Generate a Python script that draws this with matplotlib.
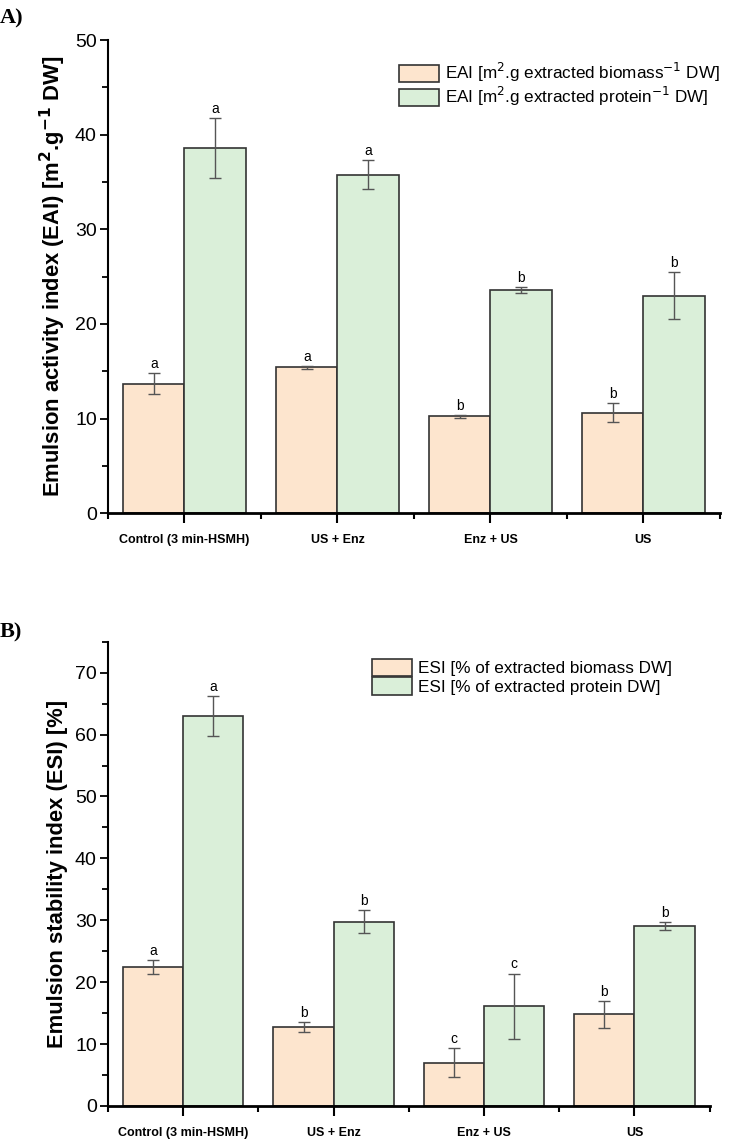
import matplotlib.pyplot as plt
import numpy as np
from matplotlib.ticker import MultipleLocator

# data
groups = ['Control (3 min-HSMH)', 'US + Enz', 'Enz + US', 'US']

eai_biomass = [13.7, 15.4, 10.25, 10.6]
eai_biomass_err = [1.1, 0.15, 0.15, 1.0]
eai_protein = [38.6, 35.8, 23.6, 23.0]
eai_protein_err = [3.2, 1.5, 0.3, 2.5]
eai_biomass_letters = ['a', 'a', 'b', 'b']
eai_protein_letters = ['a', 'a', 'b', 'b']

esi_biomass = [22.5, 12.8, 7.0, 14.8]
esi_biomass_err = [1.1, 0.8, 2.35, 2.2]
esi_protein = [63.0, 29.8, 16.1, 29.1]
esi_protein_err = [3.3, 1.85, 5.3, 0.6]
esi_biomass_letters = ['a', 'b', 'c', 'b']
esi_protein_letters = ['a', 'b', 'c', 'b']

orange = '#FDE5CE'
green = '#DAEFD9'
edge = '#333333'
errc = '#555555'

plt.rcParams['font.family'] = ['Liberation Sans', 'DejaVu Sans']

fig = plt.figure(figsize=(7.32, 11.48), dpi=100)
axA = fig.add_axes([0.1475, 0.553, 0.836, 0.412])
axB = fig.add_axes([0.1475, 0.0366, 0.822, 0.4044])


def draw_panel(ax, v1, e1, l1, v2, e2, l2, lab1, lab2, ymax, ylabel, leg_anchor):
    x = np.arange(len(groups))
    w = 0.4
    ax.bar(x - w / 2, v1, w, color=orange, edgecolor=edge, linewidth=1.2, label=lab1, zorder=2)
    ax.bar(x + w / 2, v2, w, color=green, edgecolor=edge, linewidth=1.2, label=lab2, zorder=2)
    ax.errorbar(x - w / 2, v1, yerr=e1, fmt='none', ecolor=errc, elinewidth=1, capsize=4, capthick=1, zorder=3)
    ax.errorbar(x + w / 2, v2, yerr=e2, fmt='none', ecolor=errc, elinewidth=1, capsize=4, capthick=1, zorder=3)
    for xi, v, e, t in zip(x - w / 2, v1, e1, l1):
        ax.annotate(t, (xi, v + e), xytext=(0, 1.5), textcoords='offset points',
                    ha='center', va='bottom', fontsize=10)
    for xi, v, e, t in zip(x + w / 2, v2, e2, l2):
        ax.annotate(t, (xi, v + e), xytext=(0, 1.5), textcoords='offset points',
                    ha='center', va='bottom', fontsize=10)

    ax.set_xlim(-0.5, len(groups) - 0.5)
    ax.set_ylim(0, ymax)
    ax.yaxis.set_major_locator(MultipleLocator(10))
    ax.yaxis.set_minor_locator(MultipleLocator(5))
    ax.set_xticks(x)
    ax.set_xticks(np.arange(-0.5, len(groups), 1.0), minor=True)
    ax.set_xticklabels(groups, fontweight='bold', fontsize=9)
    ax.tick_params(axis='y', which='major', direction='out', length=6, width=1.3, labelsize=14, pad=2)
    ax.tick_params(axis='y', which='minor', direction='out', length=4, width=1.3)
    ax.tick_params(axis='x', which='major', direction='out', length=7, width=1.5, pad=8)
    ax.tick_params(axis='x', which='minor', direction='out', length=4, width=1.5)
    for s in ['top', 'right']:
        ax.spines[s].set_visible(False)
    ax.spines['left'].set_linewidth(1.5)
    ax.spines['bottom'].set_linewidth(2)
    ax.set_ylabel(ylabel, fontsize=15.8, fontweight='bold', labelpad=5)
    ax.legend(loc='upper left', bbox_to_anchor=leg_anchor, frameon=False, fontsize=12.3,
              handlelength=2.3, handleheight=1.2, handletextpad=0.35, labelspacing=0.05,
              borderaxespad=0)


draw_panel(axA, eai_biomass, eai_biomass_err, eai_biomass_letters,
           eai_protein, eai_protein_err, eai_protein_letters,
           r'EAI [m$^{2}$.g extracted biomass$^{-1}$ DW]',
           r'EAI [m$^{2}$.g extracted protein$^{-1}$ DW]',
           50, r'Emulsion activity index (EAI) [m$^{\mathbf{2}}$.g$^{\mathbf{-1}}$ DW]',
           (0.465, 0.97))

draw_panel(axB, esi_biomass, esi_biomass_err, esi_biomass_letters,
           esi_protein, esi_protein_err, esi_protein_letters,
           'ESI [% of extracted biomass DW]',
           'ESI [% of extracted protein DW]',
           75, 'Emulsion stability index (ESI) [%]',
           (0.428, 0.978))

fig.text(0.0, 0.993, 'A)', family=['Liberation Serif', 'DejaVu Serif'], fontweight='bold',
         fontsize=16, ha='left', va='top')
fig.text(0.0, 0.458, 'B)', family=['Liberation Serif', 'DejaVu Serif'], fontweight='bold',
         fontsize=16, ha='left', va='top')

fig.savefig('out.png', dpi=100)
